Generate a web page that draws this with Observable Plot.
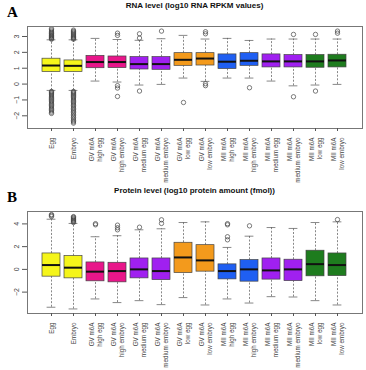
<!DOCTYPE html>
<html><head><meta charset="utf-8">
<script src="https://cdn.jsdelivr.net/npm/d3@7"></script>
<script src="https://cdn.jsdelivr.net/npm/@observablehq/plot@0.6"></script>
<style>
body{margin:0;background:#fff;font-family:"Liberation Sans",Arial,sans-serif;}
.panel{position:relative;width:366px;height:185px;}
.letter{position:absolute;left:7px;top:4px;line-height:1;font:bold 15px "Liberation Serif","DejaVu Serif",serif;}
.title{position:absolute;left:27px;width:335px;top:2px;line-height:1;text-align:center;font-weight:bold;font-size:8px;color:#111;}
.panel svg{position:absolute;left:0;top:20px;}
</style></head><body>
<div id="A" class="panel"><div class="letter">A</div><div class="title">RNA level (log10 RNA RPKM values)</div></div>
<div id="B" class="panel"><div class="letter">B</div><div class="title">Protein level (log10 protein amount (fmol))</div></div>
<script>
const labels = ["Egg","Embryo","GV m6A\nhigh egg","GV m6A\nhigh embryo","GV m6A\nmedium egg","GV m6A\nmedium embryo","GV m6A\nlow egg","GV m6A\nlow embryo","MII m6A\nhigh egg","MII m6A\nhigh embryo","MII m6A\nmedium egg","MII m6A\nmedium embryo","MII m6A\nlow egg","MII m6A\nlow embryo"];
const colors = ["#f5f51a","#f5f51a","#e8168a","#e8168a","#a020f0","#a020f0","#f39a1c","#f39a1c","#1f5ff2","#1f5ff2","#a020f0","#a020f0","#1e7c1e","#1e7c1e"];

// Panel A: RNA level
const rnaTicks = [-2,-1,0,1,2,3];
const rnaQ1  = [0.76,0.76,1.00,1.01,0.92,0.90,1.15,1.17,0.95,1.15,1.05,1.05,1.03,1.05];
const rnaMed = [1.17,1.15,1.39,1.39,1.26,1.26,1.53,1.61,1.41,1.47,1.43,1.43,1.43,1.49];
const rnaQ3  = [1.60,1.49,1.78,1.74,1.70,1.70,1.95,1.95,1.87,1.95,1.87,1.83,1.83,1.85];
const rnaLo  = [-0.40,-0.40,0.19,0.13,-0.06,-0.02,0.38,0.17,0.38,0.38,0.19,-0.11,-0.06,-0.02];
const rnaHi  = [2.79,2.79,2.88,2.81,2.76,2.86,3.07,2.84,2.88,2.75,2.84,2.84,2.84,2.84];
const rnaOut = [
  [2.83,2.87,2.91,2.96,3.01,3.05,3.1,3.16,3.21,3.27,3.34,3.42,3.49,-0.46,-0.51,-0.57,-0.63,-0.69,-0.76,-0.83,-0.9,-0.97,-1.05,-1.12,-1.2,-1.28,-1.36,-1.44,-1.52,-1.6,-1.68,-1.77,-1.85],
  [2.83,2.88,2.93,2.98,3.03,3.09,3.15,3.21,3.27,3.33,3.4,-0.46,-0.52,-0.58,-0.65,-0.72,-0.79,-0.86,-0.94,-1.02,-1.1,-1.18,-1.26,-1.35,-1.44,-1.53,-1.62,-1.71,-1.8,-1.9,-2.0,-2.1,-2.2,-2.3,-2.38,-2.46],
  [],
  [3.07,3.21,-0.1,-0.25,-0.78],
  [2.9,3.17,-0.44],
  [3.34],
  [-1.16],
  [3.17,3.3,0.02,-0.1],
  [],
  [-0.23],
  [],
  [3.13,-0.8],
  [3.13,-0.44],
  [3.21,3.34]
];

// Panel B: Protein level
const protTicks = [-2,0,2,4];
const protQ1  = [-0.64,-0.79,-1.05,-1.14,-0.79,-0.94,-0.32,-0.20,-0.88,-1.08,-0.90,-1.03,-0.61,-0.59];
const protMed = [0.38,0.15,-0.20,-0.15,0.00,-0.15,1.05,0.79,-0.15,0.00,-0.09,0.00,0.46,0.38];
const protQ3  = [1.40,1.17,0.61,0.58,0.96,0.96,2.34,2.13,0.44,0.82,0.96,0.85,1.64,1.40];
const protLo  = [-3.33,-3.48,-2.60,-2.92,-2.75,-3.10,-2.48,-3.13,-2.60,-2.96,-2.40,-2.43,-2.75,-3.13];
const protHi  = [4.41,4.04,2.87,2.96,3.48,3.57,4.12,4.18,1.93,2.92,3.68,3.60,4.12,4.18];
const protOut = [
  [4.65,4.75,4.82],
  [4.12,4.2,4.28,4.35,4.42,4.5,4.58,4.64],
  [3.92,4.02],
  [3.48,3.66,3.89],
  [3.71],
  [4.04,4.36],
  [],
  [],
  [2.6,2.87,3.92,4.02],
  [3.83],
  [],
  [],
  [],
  [4.38]
];

function panel(id, q1, med, q3, lo, hi, outs, domain, ticks) {
  const rows = labels.map((l, i) => ({label: l, color: colors[i], q1: q1[i], med: med[i], q3: q3[i], lo: lo[i], hi: hi[i]}));
  const outliers = labels.flatMap((l, i) => outs[i].map(v => ({label: l, v})));
  const whisk = {stroke: "#555", strokeWidth: 0.7, strokeDasharray: "2,1.6"};
  const plot = Plot.plot({
    width: 366, height: 165,
    marginTop: 6, marginBottom: 57, marginLeft: 27, marginRight: 4,
    x: {domain: labels, paddingInner: 0.17, paddingOuter: 0.6, axis: null},
    y: {domain, axis: null},
    color: {type: "identity"},
    style: {fontFamily: "'Liberation Sans', Arial, sans-serif", fontSize: "6.3px", background: "white", color: "#444"},
    marks: [
      Plot.ruleX(rows, {x: "label", y1: "q3", y2: "hi", ...whisk}),
      Plot.ruleX(rows, {x: "label", y1: "lo", y2: "q1", ...whisk}),
      Plot.tickY(rows, {x: "label", y: "hi", inset: 4.6, stroke: "#555", strokeWidth: 0.7}),
      Plot.tickY(rows, {x: "label", y: "lo", inset: 4.6, stroke: "#555", strokeWidth: 0.7}),
      Plot.barY(rows, {x: "label", y1: "q1", y2: "q3", fill: "color", stroke: "#444", strokeWidth: 0.7}),
      Plot.tickY(rows, {x: "label", y: "med", stroke: "#111", strokeWidth: 2}),
      Plot.dot(outliers, {x: "label", y: "v", r: 2.2, stroke: "#444", strokeWidth: 0.7, fill: "none"}),
      Plot.frame({stroke: "#777"}),
      Plot.axisY({ticks, tickFormat: d3.format("d"), tickSize: 5, tickRotate: -90, label: null, stroke: "#555", fontSize: 7}),
      Plot.axisX({tickSize: 3, tickRotate: -90, label: null, lineHeight: 1.2, stroke: "#555"})
    ]
  });
  document.getElementById(id).appendChild(plot);
}

panel("A", rnaQ1, rnaMed, rnaQ3, rnaLo, rnaHi, rnaOut, [-2.8, 3.63], rnaTicks);
panel("B", protQ1, protMed, protQ3, protLo, protHi, protOut, [-3.88, 5.09], protTicks);
</script>
</body></html>
